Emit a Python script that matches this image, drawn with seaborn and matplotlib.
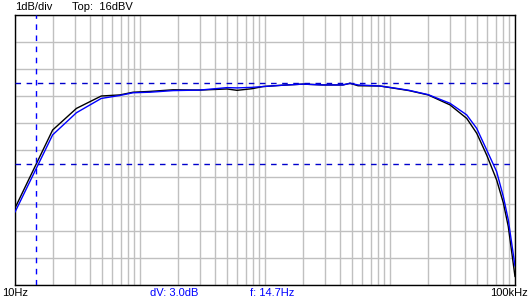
import numpy as np
import pandas as pd
import matplotlib
matplotlib.use("Agg")
import matplotlib.pyplot as plt
import seaborn as sns
from matplotlib.ticker import LogLocator, NullFormatter, MultipleLocator

# ---- data ----
freq_hz = [10, 20, 31, 49, 69, 88, 120, 184, 302, 497, 597, 787, 964, 1390, 2010,
           2910, 4200, 4790, 5550, 8320, 11400, 14200, 20200, 30200, 41100, 49400,
           59400, 71300, 80700, 88400, 100000]
trace_black_db = [8.85, 11.74, 12.54, 13.0, 13.04, 13.14, 13.17, 13.23, 13.22, 13.26,
                  13.21, 13.27, 13.35, 13.40, 13.44, 13.41, 13.41, 13.47, 13.38, 13.37,
                  13.27, 13.20, 13.04, 12.67, 12.17, 11.62, 10.81, 9.89, 9.04, 8.16, 6.31]
trace_blue_db = [8.70, 11.56, 12.38, 12.91, 13.02, 13.12, 13.14, 13.20, 13.22, 13.31,
                 13.30, 13.32, 13.35, 13.40, 13.44, 13.41, 13.41, 13.47, 13.41, 13.37,
                 13.28, 13.21, 13.05, 12.73, 12.30, 11.80, 11.00, 10.20, 9.27, 8.41, 6.70]
cursor_levels_db = [13.48, 10.48]
cursor_freq_hz = 14.7
y_top, y_bottom = 16, 6
x_min, x_max = 10, 100000

df = pd.DataFrame({
    "freq": freq_hz * 2,
    "db": trace_black_db + trace_blue_db,
    "trace": ["black"] * len(freq_hz) + ["blue"] * len(freq_hz),
})

sns.set_style("white")
plt.rcParams["font.family"] = ["Liberation Sans", "DejaVu Sans"]

W, H = 530, 300
fig = plt.figure(figsize=(W / 100, H / 100), dpi=100)
ax = fig.add_axes([15 / W, 15 / H, 500 / W, 270 / H])

ax.set_xscale("log")
ax.set_xlim(x_min, x_max)
ax.set_ylim(y_bottom, y_top)
ax.xaxis.set_major_locator(LogLocator(base=10, subs=(1.0,)))
ax.xaxis.set_minor_locator(LogLocator(base=10, subs=np.arange(2, 10)))
ax.xaxis.set_major_formatter(NullFormatter())
ax.xaxis.set_minor_formatter(NullFormatter())
ax.yaxis.set_major_locator(MultipleLocator(1))
ax.set_yticklabels([])
ax.tick_params(which="both", length=0)
ax.grid(True, which="both", color="#c0c0c0", linewidth=1.0, zorder=0)
ax.set_axisbelow(True)

sns.lineplot(data=df, x="freq", y="db", hue="trace",
             palette={"black": "#000000", "blue": "#0000ff"},
             linewidth=1.0, legend=False, ax=ax, zorder=3)

dash = (0, (4, 4))
for lv in cursor_levels_db:
    ax.axhline(lv, color="#0000cc", linewidth=1.0, linestyle=dash, zorder=4)
ax.axvline(cursor_freq_hz, color="#0000ff", linewidth=1.0, linestyle=dash, zorder=4)

for s in ax.spines.values():
    s.set_color("black")
    s.set_linewidth(1.0)
ax.set_xlabel("")
ax.set_ylabel("")

fs = 8
def ftext(x, y, s, color="black", ha="left"):
    fig.text(x / W, 1 - y / H, s, color=color, ha=ha, va="center", fontsize=fs)

ftext(15, 7, "1dB/div")
ftext(72, 7, "Top:  16dBV")
ftext(2, 293, "10Hz")
ftext(150, 293, "dV: 3.0dB", color="#0000ff")
ftext(250, 293, "f: 14.7Hz", color="#0000ff")
ftext(528, 293, "100kHz", ha="right")

fig.savefig("out.png", dpi=100, facecolor="white")
